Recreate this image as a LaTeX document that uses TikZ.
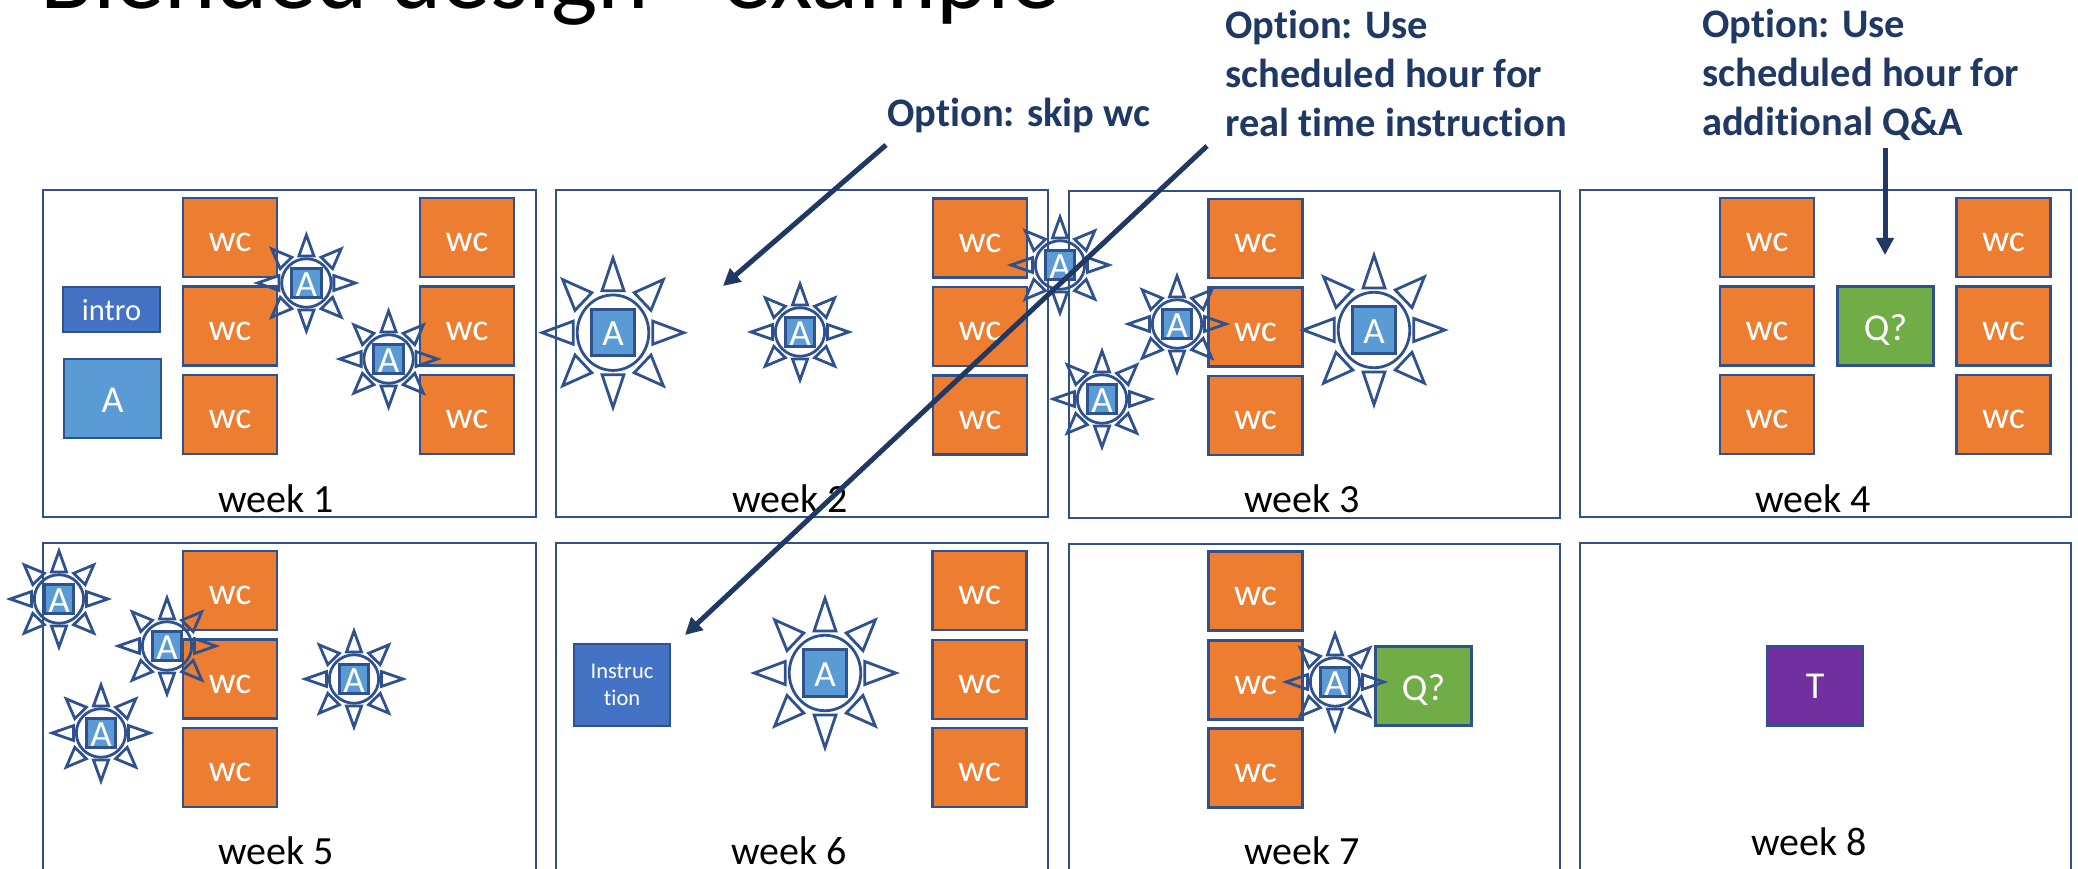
\documentclass[tikz,border=0pt]{standalone}
\usepackage{fontspec}
\setmainfont[Ligatures=NoCommon]{Carlito}
\usetikzlibrary{arrows.meta}
\definecolor{edgeblue}{HTML}{2F528F}
\definecolor{navy}{HTML}{1F3864}
\definecolor{wcorange}{HTML}{ED7D31}
\definecolor{ablue}{HTML}{5B9BD5}
\definecolor{iblue}{HTML}{4472C4}
\definecolor{qgreen}{HTML}{70AD47}
\definecolor{tpurple}{HTML}{7030A0}
\tikzset{
  weekbox/.style={draw=edgeblue,line width=2.8pt},
  blockbase/.style={draw=edgeblue,line width=2.8pt,text=white,inner sep=0pt,align=center,
    font=\fontsize{38}{46}\selectfont},
  block/.style={blockbase,text height=28pt,text depth=0pt},
  wcbox/.style={block,fill=wcorange,minimum width=94pt,minimum height=79pt},
  qbox/.style={block,fill=qgreen,minimum width=96pt,minimum height=79pt},
  sunline/.style={draw=edgeblue,line width=2.8pt,line join=miter},
  weeklabel/.style={anchor=base,inner sep=0pt,text=black,font=\fontsize{40}{48}\selectfont},
  optlabel/.style={anchor=base west,inner sep=0pt,text=navy,align=left,font=\fontsize{40.5}{49}\selectfont\bfseries},
  optarrow/.style={draw=navy,line width=5pt,-{Triangle[length=17pt,width=17pt]}}
}
% name, x, y, rx, ry
\newcommand{\sunshape}[5]{%
  \begin{scope}[shift={(#2,#3)},x=#4pt,y=#5pt]
    \node[draw=edgeblue,line width=3pt,fill=ablue,text=white,inner sep=0pt,
      minimum width={0.58*#4pt},minimum height={0.6*#5pt},
      font=\fontsize{37}{44}\selectfont,text height=26pt,text depth=0pt] (#1) at (0,0) {A};
    \draw[sunline] (0,0) ellipse [x radius={0.49*#4pt},y radius={0.49*#5pt}];
    \draw[sunline] (-.15,-.545)--(0,-.97)--(.15,-.545)--cycle;
    \draw[sunline] (-.15,.545)--(0,.97)--(.15,.545)--cycle;
    \draw[sunline] (.545,-.15)--(.97,0)--(.545,.15)--cycle;
    \draw[sunline] (-.545,-.15)--(-.97,0)--(-.545,.15)--cycle;
    \foreach \sx/\sy in {1/1,1/-1,-1/1,-1/-1}{
      \draw[sunline] (\sx*.29,\sy*.52)--(\sx*.69,\sy*.69)--(\sx*.52,\sy*.29)--cycle;
    }
  \end{scope}}
\begin{document}
\begin{tikzpicture}[x=1pt,y=-1pt]
\useasboundingbox (0,0) rectangle (2078,869);
\clip (0,0) rectangle (2078,869);
\fill[white] (0,0) rectangle (2078,869);
% title
\node[anchor=base west,inner sep=0pt,text=black,font=\fontsize{98}{110}\selectfont] (title) at (40,9) {Blended design - example};
% week frames
\draw[weekbox] (43,190) rectangle (536,517);
\draw[weekbox] (556,190) rectangle (1048,517);
\draw[weekbox] (1069,191) rectangle (1560,518);
\draw[weekbox] (1580,190) rectangle (2071,517);
\draw[weekbox] (43,543) rectangle (536,870.5);
\draw[weekbox] (556,543) rectangle (1048,870.5);
\draw[weekbox] (1069,544) rectangle (1560,870.5);
\draw[weekbox] (1580,543) rectangle (2071,870.5);
% week labels
\node[weeklabel] (w1) at (276,512) {week 1};
\node[weeklabel] (w2) at (790,512) {week 2};
\node[weeklabel] (w3) at (1302,512) {week 3};
\node[weeklabel] (w4) at (1813,512) {week 4};
\node[weeklabel] (w5) at (276,864) {week 5};
\node[weeklabel] (w6) at (789,864) {week 6};
\node[weeklabel] (w7) at (1302,864) {week 7};
\node[weeklabel] (w8) at (1809,855) {week 8};
% week 1
\foreach \n/\x in {a/230,b/467}{
  \node[wcbox] (wa\n) at (\x,237.5) {wc};
  \node[wcbox] (wb\n) at (\x,326) {wc};
  \node[wcbox] (wc\n) at (\x,414.5) {wc};
}
\node[block,fill=iblue,minimum width=97pt,minimum height=45pt,font=\fontsize{30.5}{36}\selectfont,text height=21pt] (intro) at (111.5,309.5) {intro};
\node[wcbox,fill=ablue,minimum width=97pt,minimum height=79pt,text=white] (abox) at (112.5,398.5) {A};
% week 2
\node[wcbox] (wd) at (980,238) {wc};
\node[wcbox] (we) at (980,326.5) {wc};
\node[wcbox] (wf) at (980,415) {wc};
% week 3
\node[wcbox] (wg) at (1255.5,238.5) {wc};
\node[wcbox] (wh) at (1255.5,327) {wc};
\node[wcbox] (wi) at (1255.5,415.5) {wc};
% week 4
\foreach \n/\x in {a/1767,b/2003.5}{
  \node[wcbox] (xa\n) at (\x,237.5) {wc};
  \node[wcbox] (xb\n) at (\x,326) {wc};
  \node[wcbox] (xc\n) at (\x,414.5) {wc};
}
\node[qbox] (q4) at (1885.5,326) {Q?};
% week 5
\node[wcbox] (ya) at (230,590.5) {wc};
\node[wcbox] (yb) at (230,679) {wc};
\node[wcbox] (yc) at (230,767.5) {wc};
% week 6
\node[wcbox] (za) at (979.5,590.5) {wc};
\node[wcbox] (zb) at (979.5,679.5) {wc};
\node[wcbox] (zc) at (979.5,767.5) {wc};
\node[blockbase,fill=iblue,minimum width=96pt,minimum height=82pt,font=\fontsize{22.5}{27}\selectfont] (instr) at (622,685) {Instruc\\tion};
% week 7
\node[wcbox] (ua) at (1255.5,591) {wc};
\node[wcbox] (ub) at (1255.5,680) {wc};
\node[wcbox] (uc) at (1255.5,768) {wc};
\node[qbox] (q7) at (1423.5,686) {Q?};
% week 8
\node[qbox,fill=tpurple,text height=25pt] (t8) at (1815,686) {T};
% suns
\sunshape{s1}{306.4}{283}{50.4}{49.5}
\sunshape{s2}{388.6}{359}{50.4}{49.5}
\sunshape{s3}{613}{332.7}{73}{77}
\sunshape{s4}{800}{332}{50.4}{49.5}
\sunshape{s5}{1060}{265}{50.4}{49.5}
\sunshape{s6}{1177}{324}{50.4}{49.5}
\sunshape{s7}{1102}{399}{50.4}{49.5}
\sunshape{s8}{1374}{330}{73}{77}
\sunshape{s9}{59}{599}{50.4}{49.5}
\sunshape{s10}{167}{646}{50.4}{49.5}
\sunshape{s11}{101}{733}{50.4}{49.5}
\sunshape{s12}{354}{679}{50.4}{49.5}
\sunshape{s13}{825}{673}{73}{77}
\sunshape{s14}{1335}{682}{50.4}{49.5}
% option labels
\node[optlabel] (opt1) at (887,127) {Option: skip wc};
\node[optlabel] (opt2) at (1225,137) {Option: Use\\scheduled hour for\\real time instruction};
\node[optlabel] (opt3) at (1702,136) {Option: Use\\scheduled hour for\\additional Q\&A};
% arrows
\coordinate (a1s) at (886,145);
\coordinate (a1e) at (723,286);
\coordinate (a2s) at (1207,146);
\coordinate (a2e) at (685,635);
\coordinate (a3s) at (1885,148);
\coordinate (a3e) at (1885,255);
\draw[optarrow] (a1s) -- (a1e);
\draw[optarrow] (a2s) -- (a2e);
\draw[optarrow] (a3s) -- (a3e);
\end{tikzpicture}
\end{document}
